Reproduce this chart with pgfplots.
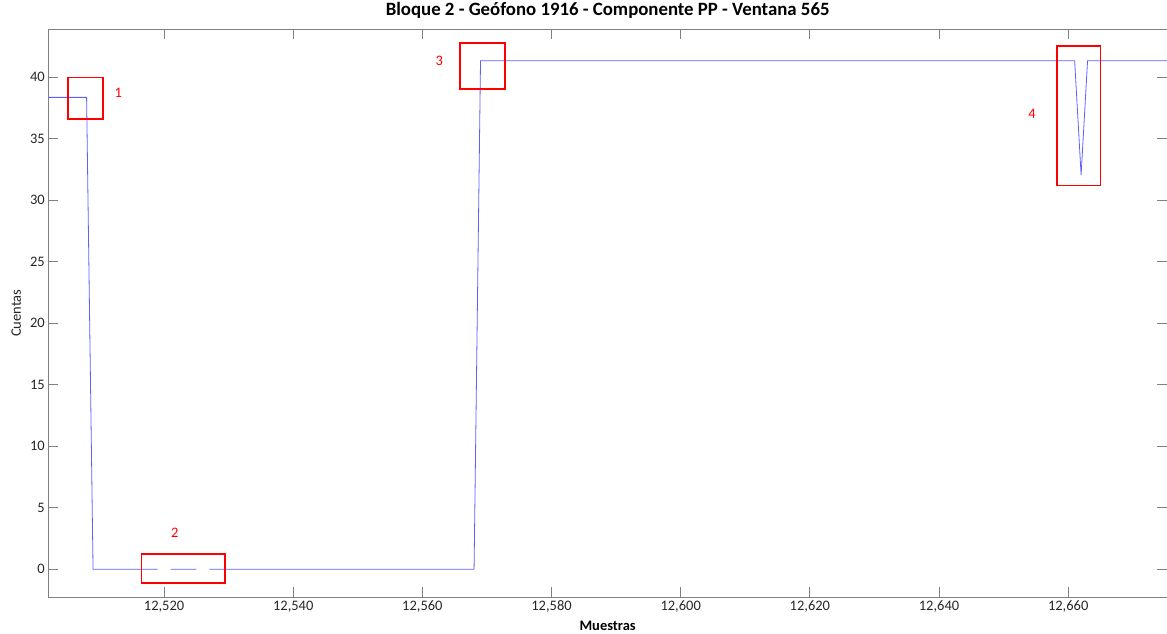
\documentclass[border=0pt]{standalone}
\usepackage{fontspec}
\setmainfont{Carlito}
\usepackage{pgfplots}
\pgfplotsset{compat=1.18}
\definecolor{axgray}{RGB}{128,128,128}
\definecolor{txtgray}{RGB}{38,38,38}
\definecolor{sigblue}{RGB}{95,95,255}
\definecolor{boxred}{RGB}{255,0,0}
\begin{document}
\begin{tikzpicture}[x=1pt,y=1pt]
\useasboundingbox (0,0) rectangle (1167,634);
\begin{axis}[
  at={(48.3pt,36.7pt)}, anchor=south west,
  scale only axis, width=1118.7pt, height=568.3pt,
  xmin=12502.07, xmax=12675.3,
  ymin=-2.28, ymax=43.93,
  xtick={12520,12540,...,12660},
  ytick={0,5,...,40},
  scaled x ticks=false,
  xticklabel style={/pgf/number format/.cd, fixed, precision=0, 1000 sep={,}},
  tick align=inside,
  major tick length=10pt,
  axis line style={axgray, line width=0.9pt},
  tick style={axgray, line width=0.9pt},
  unbounded coords=jump,
  /pgf/number format/assume math mode=true,
  ticklabel style={font=\fontsize{14.5}{17}\selectfont, text=txtgray},
  title={\textbf{Bloque 2 - Geófono 1916 - Componente PP - Ventana 565}},
  title style={font=\fontsize{18.8}{22}\selectfont, at={(axis description cs:0.5,1.0229)}, anchor=center},
  xlabel={\textbf{Muestras}},
  xlabel style={font=\fontsize{14.5}{17}\selectfont, at={(axis description cs:0.5,-0.0505)}, anchor=center},
  ylabel={Cuentas},
  ylabel style={font=\fontsize{14.5}{17}\selectfont, text=txtgray, at={(axis description cs:-0.0286,0.5)}, anchor=center},
]
\addplot[sigblue, line width=0.8pt] coordinates {
  (12501,38.37) (12508,38.37) (12509,0) (12519,0) (12520,nan) (12521,0)
  (12525,0) (12526,nan) (12527,0) (12568,0) (12569,41.35) (12661,41.35)
  (12662,32.06) (12663,41.35) (12677,41.35)
};
\addplot[draw=boxred, line width=1.6pt] coordinates {(12505.16,36.6) (12510.57,36.6) (12510.57,40.0) (12505.16,40.0)} --cycle;
\addplot[draw=boxred, line width=1.6pt] coordinates {(12516.5,-1.14) (12529.4,-1.14) (12529.4,1.24) (12516.5,1.24)} --cycle;
\addplot[draw=boxred, line width=1.6pt] coordinates {(12565.86,39.05) (12572.77,39.05) (12572.77,42.81) (12565.86,42.81)} --cycle;
\addplot[draw=boxred, line width=1.6pt] coordinates {(12658.3,31.19) (12664.98,31.19) (12664.98,42.55) (12658.3,42.55)} --cycle;
\node[text=boxred, font=\fontsize{14.5}{17}\selectfont] at (axis cs:12512.9,38.7) {1};
\node[text=boxred, font=\fontsize{14.5}{17}\selectfont] at (axis cs:12521.65,2.95) {2};
\node[text=boxred, font=\fontsize{14.5}{17}\selectfont] at (axis cs:12562.6,41.3) {3};
\node[text=boxred, font=\fontsize{14.5}{17}\selectfont] at (axis cs:12654.4,37.0) {4};
\end{axis}
\end{tikzpicture}
\end{document}
